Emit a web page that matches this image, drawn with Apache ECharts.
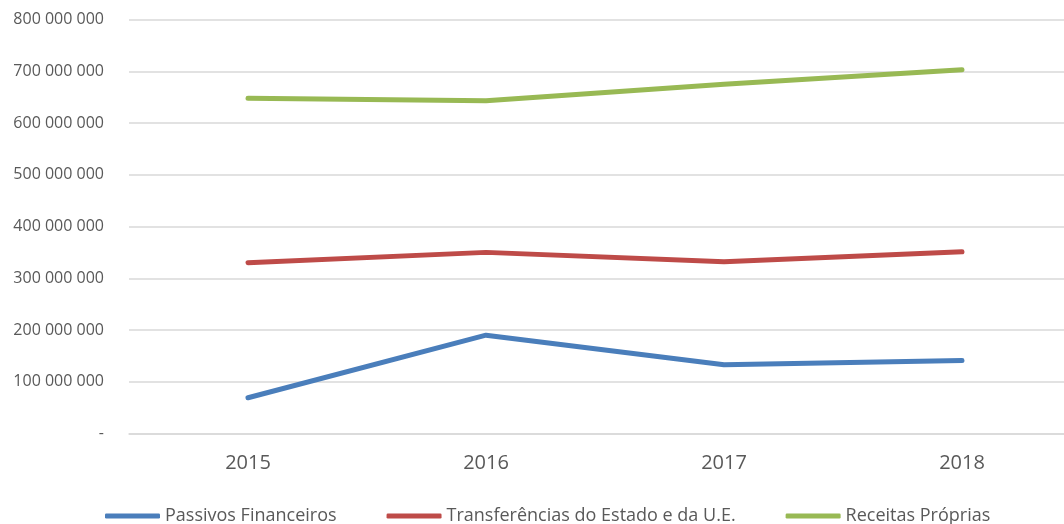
<!DOCTYPE html>
<html>
<head>
<meta charset="utf-8">
<script src="https://cdn.jsdelivr.net/npm/echarts@6/dist/echarts.min.js"></script>
<style>html,body{margin:0;padding:0;background:#fff;overflow:hidden;width:1064px;height:524px}#c{width:1082px;height:524px}</style>
</head>
<body>
<div id="c"></div>
<script>
const categories = ['2015', '2016', '2017', '2018'];
const seriesNames = ['Passivos Financeiros', 'Transferências do Estado e da U.E.', 'Receitas Próprias'];
const passivos = [69000000, 190000000, 133000000, 141000000];
const transferencias = [330000000, 350000000, 332000000, 351000000];
const receitas = [648000000, 643000000, 675000000, 703000000];
const colors = ['#4A7EBB', '#BE4B48', '#98B954'];

function fmt(v) {
  if (v === 0) return '-';
  return String(Math.round(v)).replace(/\B(?=(\d{3})+(?!\d))/g, ' ');
}

const font = "'Open Sans', 'Noto Sans', sans-serif";
const chart = echarts.init(document.getElementById('c'), null, {renderer: 'canvas'});
const mk = (name, data, color) => ({
  name, type: 'line', data, symbol: 'none', smooth: false,
  lineStyle: {color, width: 5, cap: 'round', join: 'round'},
  itemStyle: {color}
});
chart.setOption({
  animation: false,
  backgroundColor: '#fff',
  grid: {left: 129, top: 19.5, width: 952, height: 414, containLabel: false},
  xAxis: {
    type: 'category', data: categories, boundaryGap: true,
    axisLine: {show: true, lineStyle: {color: '#D9D9D9', width: 1.5}},
    axisTick: {show: false},
    axisLabel: {color: '#595959', fontSize: 20, fontFamily: font, margin: 20}
  },
  yAxis: {
    type: 'value', min: 0, max: 800000000, interval: 100000000,
    axisLine: {show: false}, axisTick: {show: false},
    splitLine: {lineStyle: {color: '#D9D9D9', width: 1.5}},
    axisLabel: {color: '#595959', fontSize: 16, fontFamily: font, margin: 25, formatter: fmt}
  },
  legend: {
    bottom: -6, left: 100, itemGap: 50, itemWidth: 55, itemHeight: 5,
    icon: 'roundRect',
    textStyle: {color: '#595959', fontSize: 18, fontFamily: font},
    data: seriesNames
  },
  series: [
    mk(seriesNames[0], passivos, colors[0]),
    mk(seriesNames[1], transferencias, colors[1]),
    mk(seriesNames[2], receitas, colors[2])
  ]
});
</script>
</body>
</html>
